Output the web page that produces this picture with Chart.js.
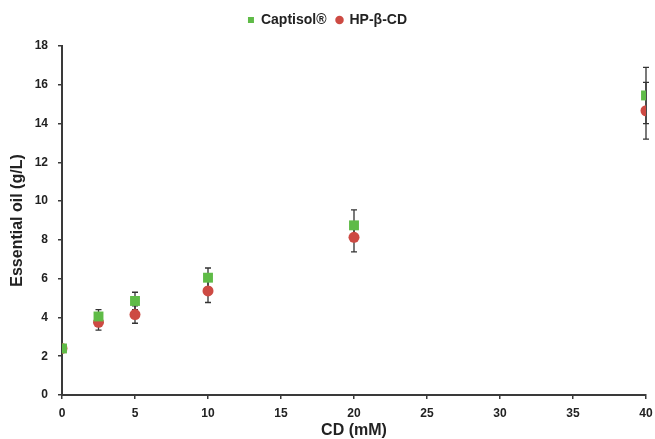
<!DOCTYPE html>
<html>
<head>
<meta charset="utf-8">
<script src="https://cdn.jsdelivr.net/npm/chart.js@4.4.1/dist/chart.umd.min.js"></script>
<style>
  html, body { margin: 0; padding: 0; background: #fff; }
  #wrap { width: 655px; height: 439px; }
</style>
</head>
<body>
<div id="wrap"><canvas id="oilChart" width="655" height="439"></canvas></div>
<script>
const concentrations = [0, 2.5, 5, 10, 20, 40];
const captisol = [2.4, 4.05, 4.85, 6.05, 8.75, 15.45];
const captisolErr = [0, 0.35, 0.45, 0.5, 0.8, 1.45];
const hpbcd = [2.4, 3.75, 4.15, 5.37, 8.13, 14.66];
const hpbcdErr = [0, 0.4, 0.45, 0.6, 0.75, 1.46];
const xTicks = [0, 5, 10, 15, 20, 25, 30, 35, 40];
const yTicks = [0, 2, 4, 6, 8, 10, 12, 14, 16, 18];

const green = "#5fbb47";
const red = "#cd4a43";
const axisColor = "#3a3a3a";
const textColor = "#222";
const fontFamily = "'Liberation Sans', Arial, sans-serif";

function points(values) {
  return concentrations.map((x, i) => ({ x, y: values[i] }));
}

// vertical error bars with caps, drawn behind the markers
const errorBars = {
  id: "errorBars",
  beforeDatasetsDraw(chart) {
    const ctx = chart.ctx;
    const xScale = chart.scales.x;
    const yScale = chart.scales.y;
    ctx.save();
    ctx.strokeStyle = "#333";
    ctx.lineWidth = 1.3;
    chart.data.datasets.forEach((ds) => {
      ds.data.forEach((pt, i) => {
        const err = ds.errors[i];
        if (!err) return;
        const x = xScale.getPixelForValue(pt.x);
        const top = yScale.getPixelForValue(pt.y + err);
        const bottom = yScale.getPixelForValue(pt.y - err);
        ctx.beginPath();
        ctx.moveTo(x, top);
        ctx.lineTo(x, bottom);
        ctx.moveTo(x - 3, top);
        ctx.lineTo(x + 3, top);
        ctx.moveTo(x - 3, bottom);
        ctx.lineTo(x + 3, bottom);
        ctx.stroke();
      });
    });
    ctx.restore();
  },
};

new Chart(document.querySelector("#oilChart"), {
  type: "scatter",
  data: {
    datasets: [
      {
        label: "Captisol®",
        data: points(captisol),
        errors: captisolErr,
        pointStyle: "rect",
        pointRadius: 7,
        backgroundColor: green,
        borderColor: green,
        borderWidth: 0,
      },
      {
        label: "HP-β-CD",
        data: points(hpbcd),
        errors: hpbcdErr,
        pointStyle: "circle",
        pointRadius: 5.5,
        backgroundColor: red,
        borderColor: red,
        borderWidth: 0,
      },
    ],
  },
  options: {
    responsive: false,
    animation: false,
    layout: { padding: { left: 0, right: 0, top: 3, bottom: 0 } },
    plugins: {
      tooltip: { enabled: false },
      legend: {
        position: "top",
        labels: {
          usePointStyle: true,
          boxWidth: 6,
          boxHeight: 6,
          padding: 10,
          color: textColor,
          font: { family: fontFamily, size: 14, weight: "bold" },
        },
      },
      // empty spacer between legend and plot
      subtitle: {
        display: true,
        text: "",
        weight: 500,
        padding: 0,
        font: { size: 9, lineHeight: 1 },
      },
    },
    scales: {
      x: {
        type: "linear",
        min: 0,
        max: 40,
        afterBuildTicks(scale) { scale.ticks = xTicks.map((value) => ({ value })); },
        afterFit(scale) {
          scale.height = 44;
          scale.paddingRight = 9;
        },
        grid: { drawOnChartArea: false, drawTicks: true, tickLength: 4, color: axisColor, lineWidth: 1.5 },
        border: { display: true, color: axisColor, width: 2 },
        ticks: { color: textColor, padding: 7, font: { family: fontFamily, size: 12, weight: "bold" } },
        title: { display: true, text: "CD (mM)", color: textColor, padding: { top: 0, bottom: 0 }, font: { family: fontFamily, size: 16, weight: "bold", lineHeight: 1 } },
      },
      y: {
        type: "linear",
        min: 0,
        max: 18,
        afterBuildTicks(scale) { scale.ticks = yTicks.map((value) => ({ value })); },
        afterFit(scale) { scale.width = 62; },
        grid: { drawOnChartArea: false, drawTicks: true, tickLength: 4, color: axisColor, lineWidth: 1.5 },
        border: { display: true, color: axisColor, width: 2 },
        ticks: { color: textColor, padding: 10, font: { family: fontFamily, size: 12, weight: "bold" } },
        title: { display: true, text: "Essential oil (g/L)", color: textColor, padding: { top: 10, bottom: 0 }, font: { family: fontFamily, size: 16, weight: "bold", lineHeight: 1 } },
      },
    },
  },
  plugins: [errorBars],
});
</script>
</body>
</html>
